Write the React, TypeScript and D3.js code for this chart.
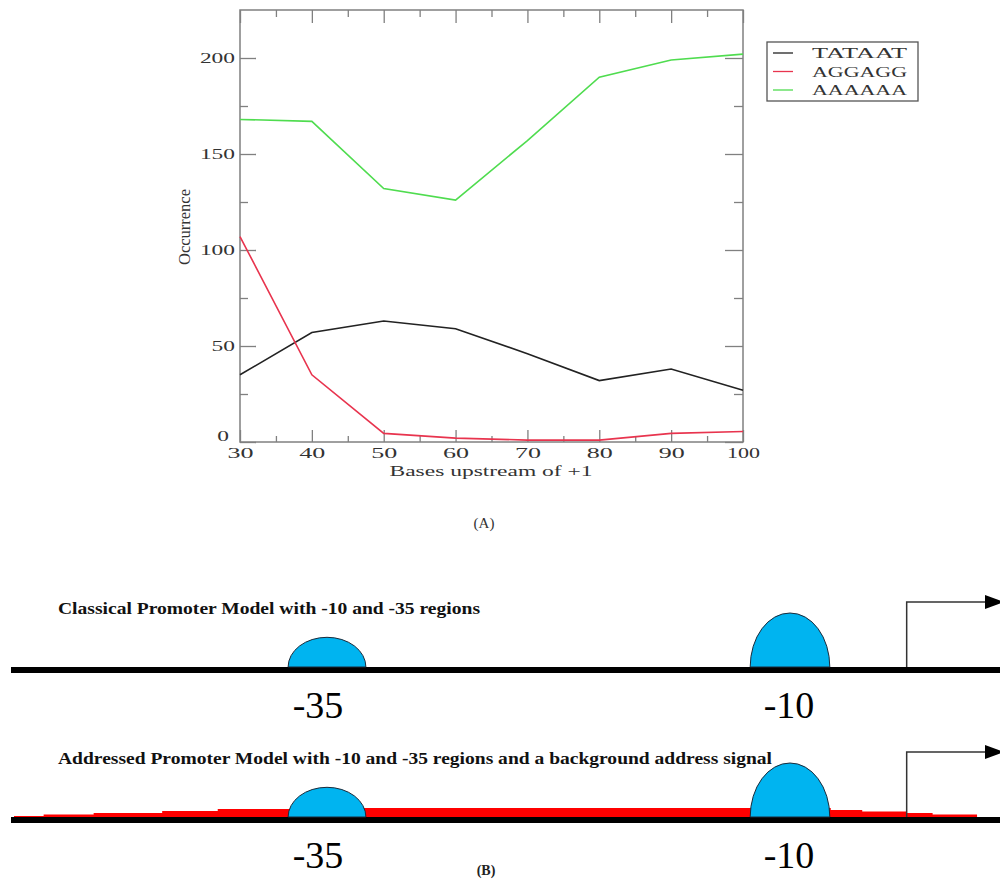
import React, { useRef, useEffect } from "react";
import * as d3 from "d3";

// panel A: motif occurrence vs distance upstream of +1
const basesUpstream = [30, 40, 50, 60, 70, 80, 90, 100];
const tataat = [35, 57, 63, 59, 46, 32, 38, 27];
const aggagg = [107, 35, 4.5, 2, 1, 1, 4.5, 5.5];
const aaaaaa = [168, 167, 132, 126, 157, 190, 199, 202];
const seriesNames = ["TATAAT", "AGGAGG", "AAAAAA"];
const seriesColors = ["#222222", "#e8344e", "#4fdc4f"];
const xTicks = [30, 40, 50, 60, 70, 80, 90, 100];
const yTicks = [0, 50, 100, 150, 200];

// panel B: promoter models (positions in bases relative to +1)
const regionLabels = ["-35", "-10"];
const regionCenters = [-35, -10];
const regionHalfWidths = [2.1, 2.15];
const regionStrength = [0.55, 1];
const tssPos = -3.7;
const signalPos = [-51.9, -50.3, -47.6, -43.9, -40.9, -37.0, -7.8, -6.1, -3.7, -2.3, 0.1];
const signalLevel = [1, 2.5, 4, 6, 8, 9, 7, 5.5, 4, 2.5, 0];
const modelTitles = [
  "Classical Promoter Model with -10 and -35 regions",
  "Addressed Promoter Model with -10 and -35 regions and a background address signal",
];

const App = () => {
  const ref = useRef<SVGSVGElement>(null);

  useEffect(() => {
    const svg = d3.select(ref.current);
    svg.selectAll("*").remove();

    const serif = "'Liberation Serif', 'Times New Roman', serif";

    // ---------- panel A ----------
    const x = d3.scaleLinear().domain([30, 100]).range([240, 743]);
    const y = d3.scaleLinear().domain([0, 225]).range([442, 10]);
    const frame = "#808080";

    const g = svg.append("g");

    g.append("rect")
      .attr("x", 240).attr("y", 10)
      .attr("width", 503).attr("height", 432)
      .attr("fill", "none").attr("stroke", frame).attr("stroke-width", 1.5);

    const minorX = d3.range(35, 100, 10);
    const minorY = d3.range(25, 225, 50);

    const styleAxis = (sel: any) => {
      sel.select(".domain").remove();
      sel.selectAll("line").attr("stroke", frame).attr("stroke-width", 1.3);
      sel.selectAll("text")
        .attr("font-family", serif)
        .attr("font-size", 14)
        .attr("fill", "#333");
    };

    const bottom = g.append("g").attr("transform", "translate(0,442)")
      .call(d3.axisBottom(x).tickValues(xTicks).tickSize(-12).tickPadding(6).tickFormat(d3.format("d")));
    styleAxis(bottom);
    bottom.selectAll("text")
      .attr("textLength", (d: any) => (String(d).length === 3 ? 33 : 26))
      .attr("lengthAdjust", "spacingAndGlyphs");

    const bottomMinor = g.append("g").attr("transform", "translate(0,442)")
      .call(d3.axisBottom(x).tickValues(minorX).tickSize(-6).tickFormat(() => ""));
    styleAxis(bottomMinor);

    const top = g.append("g").attr("transform", "translate(0,10)")
      .call(d3.axisTop(x).tickValues(xTicks).tickSize(-13).tickFormat(() => ""));
    styleAxis(top);
    const topMinor = g.append("g").attr("transform", "translate(0,10)")
      .call(d3.axisTop(x).tickValues(minorX).tickSize(-7).tickFormat(() => ""));
    styleAxis(topMinor);

    const left = g.append("g").attr("transform", "translate(240,0)")
      .call(d3.axisLeft(y).tickValues(yTicks).tickSize(-16).tickPadding(5).tickFormat(d3.format("d")));
    styleAxis(left);
    left.selectAll("text")
      .attr("textLength", (d: any) => String(d).length * 11.7)
      .attr("lengthAdjust", "spacingAndGlyphs");
    // the zero label sits up and to the left of the corner, clear of "30"
    left.selectAll("text")
      .filter((d: any) => d === 0)
      .attr("transform", "translate(-6,-6)");

    const leftMinor = g.append("g").attr("transform", "translate(240,0)")
      .call(d3.axisLeft(y).tickValues(minorY).tickSize(-8).tickFormat(() => ""));
    styleAxis(leftMinor);

    const right = g.append("g").attr("transform", "translate(743,0)")
      .call(d3.axisRight(y).tickValues(yTicks).tickSize(-18).tickFormat(() => ""));
    styleAxis(right);
    const rightMinor = g.append("g").attr("transform", "translate(743,0)")
      .call(d3.axisRight(y).tickValues(minorY).tickSize(-9).tickFormat(() => ""));
    styleAxis(rightMinor);

    g.append("text")
      .attr("x", 491).attr("y", 476)
      .attr("text-anchor", "middle")
      .attr("font-family", serif).attr("font-size", 15).attr("fill", "#333")
      .attr("textLength", 203).attr("lengthAdjust", "spacingAndGlyphs")
      .text("Bases upstream of +1");

    g.append("text")
      .attr("transform", "translate(190,227) rotate(-90)")
      .attr("text-anchor", "middle")
      .attr("font-family", serif).attr("font-size", 16).attr("fill", "#333")
      .attr("textLength", 76).attr("lengthAdjust", "spacingAndGlyphs")
      .text("Occurrence");

    const line = d3.line<number>()
      .x((d, i) => x(basesUpstream[i]))
      .y((d) => y(d));

    [tataat, aggagg, aaaaaa].forEach((s, i) => {
      g.append("path")
        .datum(s)
        .attr("d", line)
        .attr("fill", "none")
        .attr("stroke", seriesColors[i])
        .attr("stroke-width", 1.6);
    });

    // legend
    const lg = g.append("g");
    lg.append("rect")
      .attr("x", 767).attr("y", 42).attr("width", 151).attr("height", 59)
      .attr("fill", "none").attr("stroke", "#555").attr("stroke-width", 1.3);
    seriesNames.forEach((name, i) => {
      const ry = 53 + i * 18.5;
      lg.append("line")
        .attr("x1", 773).attr("x2", 793).attr("y1", ry).attr("y2", ry)
        .attr("stroke", seriesColors[i]).attr("stroke-width", 1.3);
      lg.append("text")
        .attr("x", 812).attr("y", ry).attr("dy", "0.35em")
        .attr("font-family", serif).attr("font-size", 15).attr("fill", "#333")
        .attr("textLength", 95).attr("lengthAdjust", "spacingAndGlyphs")
        .text(name);
    });

    svg.append("text")
      .attr("x", 484).attr("y", 528)
      .attr("text-anchor", "middle")
      .attr("font-family", serif).attr("font-size", 15).attr("fill", "#333")
      .text("(A)");

    // ---------- panel B ----------
    const xb = d3.scaleLinear().domain([-35, -10]).range([327, 790]);
    const bump = d3.scaleLinear().domain([0, 1]).range([0, 54]);
    const lineStart = 11;

    const drawModel = (lineY: number, title: string, withSignal: boolean) => {
      const mg = svg.append("g");
      const base = lineY - 3;

      mg.append("text")
        .attr("x", 58).attr("y", lineY - 56)
        .attr("font-family", serif).attr("font-size", 17).attr("font-weight", "bold")
        .attr("fill", "#111")
        .attr("textLength", title.length > 60 ? 714 : 422)
        .attr("lengthAdjust", "spacingAndGlyphs")
        .text(title);

      if (withSignal) {
        const sy = d3.scaleLinear().domain([0, 10]).range([base, base - 10]);
        const area = d3.area<number>()
          .x((d, i) => xb(signalPos[i]))
          .y0(base + 1)
          .y1((d) => sy(d))
          .curve(d3.curveStepAfter);
        mg.append("path")
          .datum(signalLevel)
          .attr("d", area)
          .attr("fill", "#ff0000");
      }

      mg.append("line")
        .attr("x1", lineStart).attr("x2", 1000)
        .attr("y1", lineY).attr("y2", lineY)
        .attr("stroke", "#000").attr("stroke-width", 6);

      regionCenters.forEach((c, i) => {
        const x0 = xb(c - regionHalfWidths[i]);
        const x1 = xb(c + regionHalfWidths[i]);
        const rx = (x1 - x0) / 2;
        const h = bump(regionStrength[i]);
        mg.append("path")
          .attr("d", `M${x0},${base} A${rx},${h} 0 0 1 ${x1},${base} Z`)
          .attr("fill", "#00b4f0")
          .attr("stroke", "#1a2a3a").attr("stroke-width", 1);

        mg.append("text")
          .attr("x", xb(c) - (i === 0 ? 9 : 1)).attr("y", lineY + 48)
          .attr("text-anchor", "middle")
          .attr("font-family", serif).attr("font-size", 38).attr("fill", "#000")
          .text(regionLabels[i]);
      });

      const tx = xb(tssPos);
      const ay = base - 65;
      mg.append("path")
        .attr("d", `M${tx},${base} V${ay} H986`)
        .attr("fill", "none").attr("stroke", "#333").attr("stroke-width", 1.5);
      mg.append("path")
        .attr("d", `M985,${ay - 7} L1004,${ay} L985,${ay + 7} Z`)
        .attr("fill", "#000");
    };

    drawModel(670, modelTitles[0], false);
    drawModel(820, modelTitles[1], true);

    svg.append("text")
      .attr("x", 486).attr("y", 875)
      .attr("text-anchor", "middle")
      .attr("font-family", serif).attr("font-size", 14).attr("font-weight", "bold")
      .attr("fill", "#222")
      .text("(B)");
  }, []);

  return (
    <svg
      ref={ref}
      width={1000}
      height={881}
      style={{ position: "absolute", left: 0, top: 0, background: "#fff" }}
    />
  );
};

export default App;
